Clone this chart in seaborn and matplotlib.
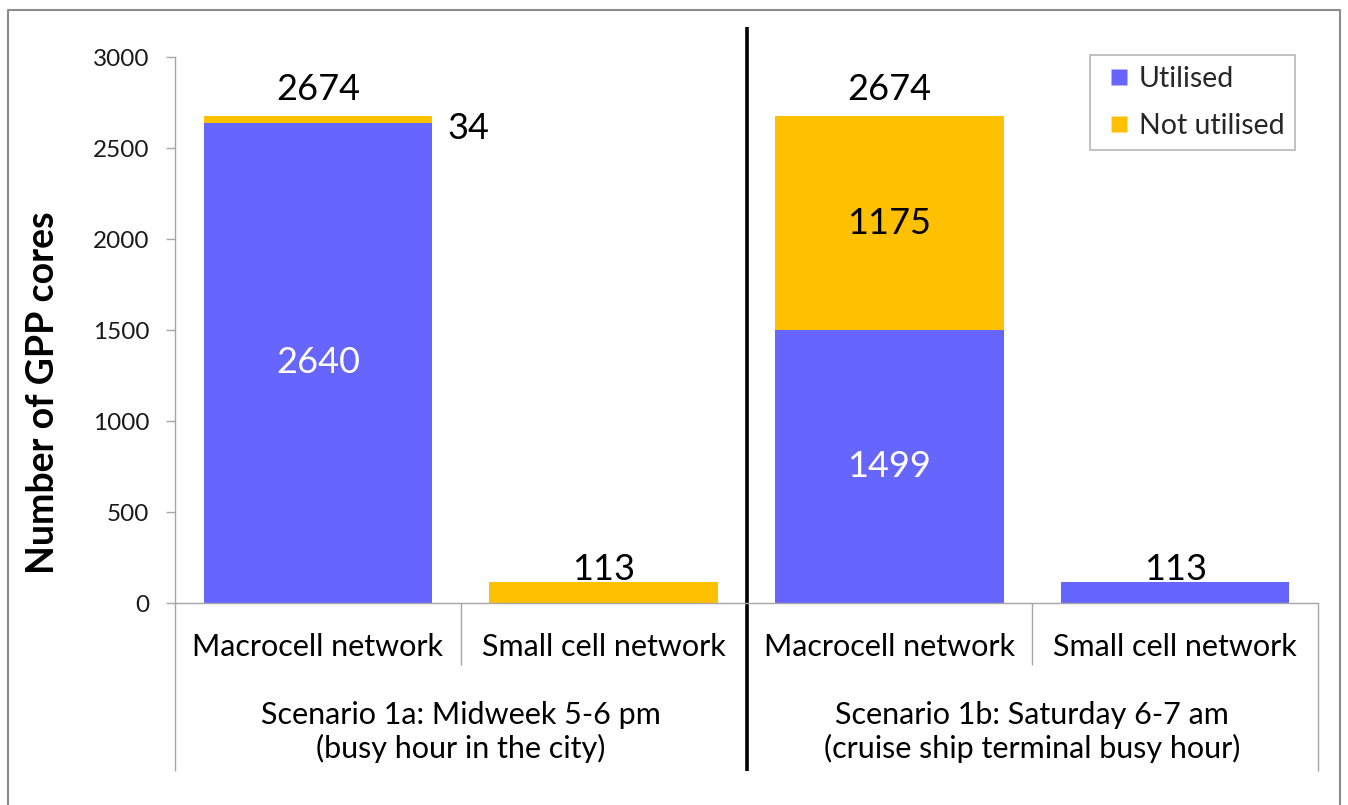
import matplotlib
matplotlib.use("Agg")
import matplotlib.pyplot as plt
import seaborn as sns
import pandas as pd
from matplotlib.lines import Line2D

# ---- data -------------------------------------------------------------
bar_keys = ["1a_macro", "1a_small", "1b_macro", "1b_small"]
networks = ["Macrocell network", "Small cell network",
            "Macrocell network", "Small cell network"]
utilised = [2640, 0, 1499, 113]
not_utilised = [34, 113, 1175, 0]
scenarios = ["Scenario 1a: Midweek 5-6 pm\n(busy hour in the city)",
             "Scenario 1b: Saturday 6-7 am\n(cruise ship terminal busy hour)"]
series_names = ["Utilised", "Not utilised"]
y_ticks = [0, 500, 1000, 1500, 2000, 2500, 3000]
y_title = "Number of GPP cores"

BLUE = "#6666FF"
GOLD = "#FFC000"
GREY = "#A6A6A6"

# ---- styling ----------------------------------------------------------
sns.set_theme(style="white")
plt.rcParams["font.family"] = ["Lato", "DejaVu Sans"]

W, H = 1348, 805
fig = plt.figure(figsize=(W / 100, H / 100), dpi=100)


def fx(px):
    return px / W


def fy(py):
    return 1 - py / H


ax = fig.add_axes([fx(175), fy(603), fx(1318) - fx(175), fy(57) - fy(603)])

df = pd.DataFrame({"bar": bar_keys, "utilised": utilised,
                   "not_utilised": not_utilised})

# stacked bars: utilised at the bottom, not-utilised on top
sns.barplot(data=df, x="bar", y="utilised", order=bar_keys, color=BLUE,
            saturation=1, width=0.8, linewidth=0, errorbar=None, ax=ax)
sns.barplot(data=df, x="bar", y="not_utilised", order=bar_keys, color=GOLD,
            saturation=1, width=0.8, linewidth=0, errorbar=None,
            bottom=df["utilised"].to_numpy(), ax=ax)

ax.set_xlim(-0.5, 3.5)
ax.set_ylim(0, 3000)
ax.set_xticks([])
ax.set_xlabel("")
ax.set_ylabel("")
ax.set_yticks(y_ticks)
ax.tick_params(axis="y", left=True, direction="out", length=6.5, width=1,
               color=GREY, labelsize=17.5, labelcolor="#1A1A1A", pad=12)
for side in ("top", "right"):
    ax.spines[side].set_visible(False)
for side in ("left", "bottom"):
    ax.spines[side].set_color(GREY)
    ax.spines[side].set_linewidth(1)

# ---- value labels -----------------------------------------------------
LABEL_FS = 26
totals = [u + n for u, n in zip(utilised, not_utilised)]
for i, t in enumerate(totals):
    off = 11.5 if networks[i] == "Macrocell network" else 2
    ax.annotate(f"{t}", (i, t), xytext=(0, off), textcoords="offset points",
                ha="center", va="baseline", fontsize=LABEL_FS, color="black")

for i in range(len(bar_keys)):
    if networks[i] != "Macrocell network":
        continue
    ax.annotate(f"{utilised[i]}", (i, utilised[i] / 2), ha="center",
                va="center", fontsize=LABEL_FS, color="white")
    n = not_utilised[i]
    if n >= 200:
        ax.annotate(f"{n}", (i, utilised[i] + n / 2), ha="center",
                    va="center", fontsize=LABEL_FS, color="black")
    else:
        ax.annotate(f"{n}", (i + 0.4, totals[i]), xytext=(11, -9),
                    textcoords="offset points", ha="left", va="center",
                    fontsize=LABEL_FS, color="black")

# ---- grouped category axis -------------------------------------------
xt = ax.get_xaxis_transform()


def frac(py):
    return (603 - py) / 546


for x, y_end in ((-0.5, 771), (0.5, 665), (2.5, 665), (3.5, 771)):
    ax.plot([x, x], [0, frac(y_end)], transform=xt, color=GREY, lw=1,
            clip_on=False, solid_capstyle="butt")
ax.plot([1.5, 1.5], [frac(771), frac(27)], transform=xt, color="black",
        lw=2.6, clip_on=False, solid_capstyle="butt")

for i, name in enumerate(networks):
    ax.text(i, frac(647), name, transform=xt, ha="center", va="center",
            fontsize=22, color="black")
for j, sc in enumerate(scenarios):
    ax.text(2 * j + 0.5, frac(732), sc, transform=xt, ha="center",
            va="center", fontsize=22, color="black", linespacing=1.2)

# ---- axis title -------------------------------------------------------
fig.text(fx(43), fy(393), y_title, rotation=90, ha="center", va="center",
         fontsize=27, fontweight="bold", color="black")

# ---- legend -----------------------------------------------------------
handles = [Line2D([], [], linestyle="none", marker="s", markersize=11,
                  markerfacecolor=c, markeredgecolor="none", label=lab)
           for c, lab in zip((BLUE, GOLD), series_names)]
leg = ax.legend(handles=handles, loc="upper left",
                bbox_to_anchor=(fx(1090), fy(55)),
                bbox_transform=fig.transFigure, frameon=True, fancybox=False,
                edgecolor=GREY, fontsize=20.5, handlelength=1.3,
                handletextpad=0.05, borderpad=0.37, labelspacing=0.77,
                borderaxespad=0)
leg.get_frame().set_linewidth(1.2)

# ---- outer chart border ----------------------------------------------
border = Line2D([fx(8), fx(8), fx(1340), fx(1340)],
                [0, fy(10), fy(10), 0], transform=fig.transFigure,
                color="#8C8C8C", lw=1.5)
fig.add_artist(border)

fig.savefig("out.png", dpi=100)
